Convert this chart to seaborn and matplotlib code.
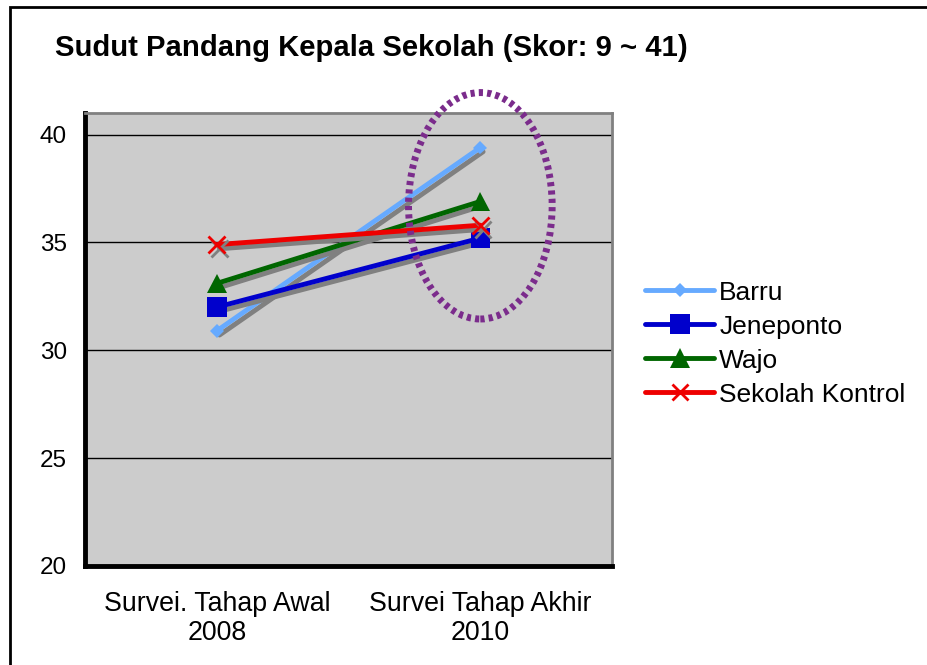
import matplotlib
matplotlib.use("Agg")
import matplotlib.pyplot as plt
import matplotlib.patheffects as pe
from matplotlib.patches import Ellipse, Rectangle
import seaborn as sns
import pandas as pd

categories = ["Survei. Tahap Awal\n2008", "Survei Tahap Akhir\n2010"]
series_names = ["Barru", "Jeneponto", "Wajo", "Sekolah Kontrol"]
barru = [30.9, 39.4]
jeneponto = [32.0, 35.2]
wajo = [33.1, 36.9]
kontrol = [34.9, 35.8]
yticks = [20, 25, 30, 35, 40]
title = "Sudut Pandang Kepala Sekolah (Skor: 9 ~ 41)"

sns.set_style("white")
plt.rcParams["font.family"] = ["Liberation Sans", "DejaVu Sans"]
plt.rcParams["text.color"] = "black"
plt.rcParams["xtick.color"] = "black"
plt.rcParams["ytick.color"] = "black"
plt.rcParams["xtick.labelcolor"] = "black"
plt.rcParams["ytick.labelcolor"] = "black"

fig = plt.figure(figsize=(9.28, 6.65), dpi=100)
ax = fig.add_axes([0.0916, 0.149, 0.568, 0.681])
ax.set_facecolor("#CCCCCC")

styles = [
    (barru, "#66AAFF", "D", 7),
    (jeneponto, "#0000CC", "s", 14),
    (wajo, "#006600", "^", 14),
    (kontrol, "#EE0000", "x", 12),
]
xs = list(range(len(categories)))
shadow = [pe.SimpleLineShadow(offset=(2, -3), shadow_color="#808080", alpha=1.0), pe.Normal()]
for name, (vals, color, mk, ms) in zip(series_names, styles):
    df = pd.DataFrame({"x": xs, "y": vals})
    sns.lineplot(data=df, x="x", y="y", ax=ax, color=color, linewidth=3.5,
                 marker=mk, markersize=ms, markeredgewidth=2 if mk == "x" else 0,
                 markeredgecolor=color, label=name)
for line in ax.get_lines():
    line.set_path_effects(shadow)

ax.set_xlim(-0.5, 1.5)
ax.set_ylim(20, 41)
ax.set_yticks(yticks)
ax.set_yticklabels([str(t) for t in yticks], fontsize=17.5, color="black")
ax.set_xticks([0.5, 1.5], minor=False)
ax.set_xticklabels([])
ax.set_xticks(xs, minor=True)
ax.set_xticklabels(categories, minor=True, fontsize=19.3, color="black", linespacing=1.15)
ax.tick_params(axis="x", which="minor", length=0, pad=18)
ax.tick_params(axis="x", which="major", direction="in", length=5, width=3, color="black")
ax.tick_params(axis="y", direction="in", length=5, width=3, color="black", pad=13)
ax.set_xlabel("")
ax.set_ylabel("")
for t in [25, 30, 35, 40]:
    ax.axhline(t, color="black", linewidth=1, zorder=0.5)

for s in ["left", "bottom"]:
    ax.spines[s].set_color("black")
    ax.spines[s].set_linewidth(3.5)
for s in ["top", "right"]:
    ax.spines[s].set_color("#808080")
    ax.spines[s].set_linewidth(2)

ell = Ellipse((1.0, 36.7), 0.545, 10.5, fill=False, edgecolor="#7B2C8C",
              linewidth=5, linestyle=(0, (0.6, 0.6)), clip_on=False, zorder=5)
ax.add_patch(ell)

leg = ax.legend(loc="upper left", bbox_to_anchor=(0.684, 0.594), bbox_transform=fig.transFigure,
                frameon=False, fontsize=19, handlelength=2.6, handletextpad=0.2,
                labelspacing=0.38, borderaxespad=0)
for h in leg.legend_handles:
    h.set_path_effects([])
for t in leg.get_texts():
    t.set_color("black")

fig.text(0.059, 0.928, title, fontsize=21.1, fontweight="bold", ha="left", va="center", color="black")
fig.patches.append(Rectangle((0.0108, -0.1), 1.2, 1.0895, transform=fig.transFigure,
                             fill=False, edgecolor="black", linewidth=2))

fig.savefig("out.png", dpi=100)
